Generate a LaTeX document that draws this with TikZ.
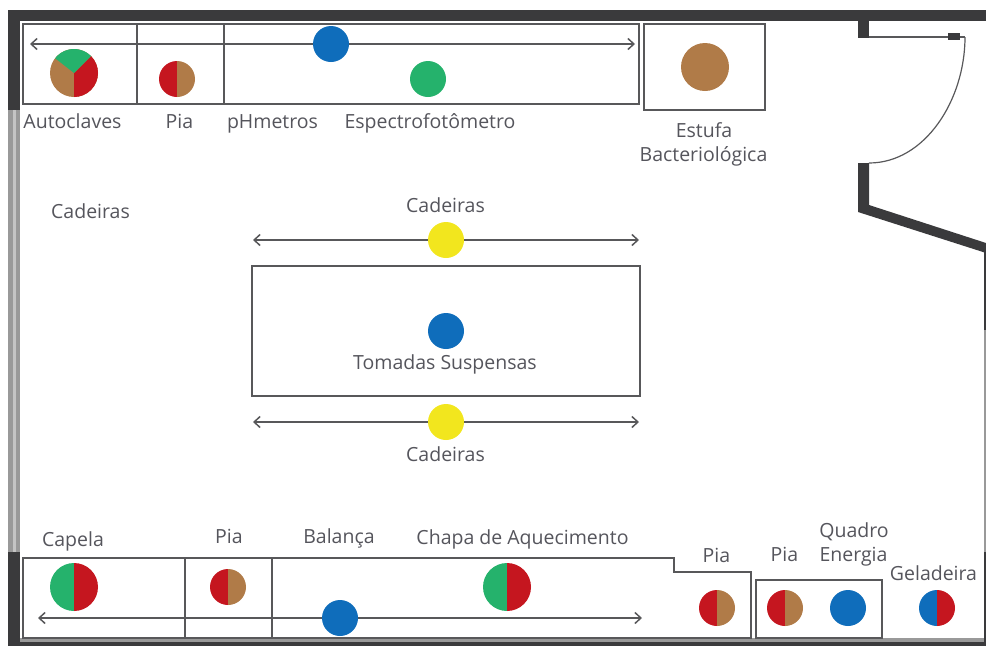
\documentclass[tikz,border=0pt]{standalone}
\usepackage{fontspec}
\setmainfont{Open Sans}
\usetikzlibrary{arrows.meta}
\definecolor{wallc}{HTML}{3A3A3C}
\definecolor{linec}{HTML}{58585A}
\definecolor{grayc}{HTML}{999999}
\definecolor{grayd}{HTML}{C4C4C4}
\definecolor{txtc}{HTML}{55555C}
\definecolor{redc}{HTML}{C5161F}
\definecolor{brownc}{HTML}{B07B48}
\definecolor{greenc}{HTML}{25B26C}
\definecolor{bluec}{HTML}{0F6DBB}
\definecolor{yellowc}{HTML}{F2E61E}
\tikzset{
  x=1pt,y=-1pt,
  label text/.style={anchor=base,inner sep=0pt,text=txtc,font=\fontsize{19.5}{19.5}\selectfont},
  bench/.style={draw=linec,line width=1.5pt},
  spread/.style={draw=linec,line width=1.7pt,{Straight Barb[length=6pt,width=11pt,line width=1.5pt]}-{Straight Barb[length=6pt,width=11pt,line width=1.5pt]}},
  wall/.style={fill=wallc,draw=none},
  dot/.style={circle,draw=none,inner sep=0pt,minimum size=36pt,fill=#1},
  bigdot/.style={dot=#1,minimum size=48pt}
}
\newcommand{\halfdot}[5]{% name, position, radius, left colour, right colour
  \node[circle,inner sep=0pt,minimum size=#3*2pt] (#1) at (#2) {};
  \begin{scope}[shift={(#1.center)},y=1pt]
    \fill[#4] (0,#3) arc[start angle=90,end angle=270,radius=#3] -- cycle;
    \fill[#5] (0,#3) arc[start angle=90,end angle=-90,radius=#3] -- cycle;
  \end{scope}}
\begin{document}
\begin{tikzpicture}
\useasboundingbox (0,0) rectangle (986,646);
% walls
\fill[wall] (8,10) rectangle (986,21);
\fill[wall] (8,10) rectangle (20,110);
\fill[grayc] (8,110) rectangle (20,552);
\fill[grayd] (12.5,110) rectangle (15.5,552);
\fill[wall] (8,552) rectangle (20,646);
\fill[grayc] (20,638) rectangle (986,642);
\fill[wall] (8,642) rectangle (986,646);
\fill[wall] (983.5,250) rectangle (986,330);
\fill[grayc] (983.5,330) rectangle (986,552);
\fill[wall] (983.5,552) rectangle (986,642);
\fill[wall] (858,10) rectangle (869,38);
\fill[wall] (858,163) -- (869,163) -- (869,205) -- (986,243) -- (986,253) -- (983,252) -- (858,212) -- cycle;
% door
\coordinate (hingeA) at (869,37);
\coordinate (arcA) at (965,37);
\coordinate (arcB) at (869,163);
\draw[linec,line width=1.2pt] (hingeA) -- (arcA);
\fill[wall] (948,33) rectangle (960,40);
\draw[linec,line width=1.2pt] (arcA) .. controls (965,100) and (925,163) .. (arcB);
% benches
\draw[bench] (23,24) rectangle (639,104);
\draw[bench] (137,24) -- (137,104);
\draw[bench] (224,24) -- (224,104);
\draw[bench] (644,24) rectangle (765,110);
\draw[bench] (252,266) rectangle (640,396);
\draw[bench] (23,558) -- (674,558) -- (674,572) -- (751,572) -- (751,638) -- (23,638) -- cycle;
\draw[bench] (185,558) -- (185,638);
\draw[bench] (272,558) -- (272,638);
\draw[bench] (756,580) rectangle (882,638);
% spreads
\coordinate (t1) at (30,44); \coordinate (t2) at (635,44);
\coordinate (m1) at (253,240); \coordinate (m2) at (639,240);
\coordinate (n1) at (253,422); \coordinate (n2) at (639,422);
\coordinate (b1) at (38,618); \coordinate (b2) at (642,618);
\draw[spread] (t1) -- (t2);
\draw[spread] (m1) -- (m2);
\draw[spread] (n1) -- (n2);
\draw[spread] (b1) -- (b2);
% dots
\node[dot=bluec] (d1) at (331,44) {};
\node[dot=greenc] (d2) at (428,79) {};
\node[bigdot=brownc] (d3) at (705,67) {};
\node[dot=yellowc] (d4) at (446,240) {};
\node[dot=bluec] (d5) at (446,331) {};
\node[dot=yellowc] (d6) at (446,422) {};
\node[dot=bluec] (d7) at (340,618) {};
\node[dot=bluec] (d8) at (848,608) {};
\halfdot{p1}{177,79}{18}{redc}{brownc}
\halfdot{p2}{228,587}{18}{redc}{brownc}
\halfdot{p3}{717,608}{18}{redc}{brownc}
\halfdot{p4}{785,608}{18}{redc}{brownc}
\halfdot{p5}{937,608}{18}{bluec}{redc}
\halfdot{p6}{74,587}{24}{greenc}{redc}
\halfdot{p7}{507,587}{24}{greenc}{redc}
\node[bigdot=brownc] (p8) at (74,73) {};
\begin{scope}[shift={(p8.center)},y=1pt]
\fill[redc] (0,0) -- (45:24) arc[start angle=45,end angle=-90,radius=24] -- cycle;
\fill[greenc] (0,0) -- (45:24) arc[start angle=45,end angle=142,radius=24] -- cycle;
\end{scope}
% labels
\node[label text] (l1) at (72.5,128) {Autoclaves};
\node[label text] (l2) at (179.5,128) {Pia};
\node[label text] (l3) at (272.5,128) {pHmetros};
\node[label text] (l4) at (430,128) {Espectrofotômetro};
\node[label text] (l5) at (704,137) {Estufa};
\node[label text] (l6) at (703.5,161) {Bacteriológica};
\node[label text] (l7) at (90.5,218.5) {Cadeiras};
\node[label text] (l8) at (445.5,212.5) {Cadeiras};
\node[label text] (l9) at (445,369) {Tomadas Suspensas};
\node[label text] (l10) at (445.5,461.5) {Cadeiras};
\node[label text] (l11) at (73,546) {Capela};
\node[label text] (l12) at (229,543) {Pia};
\node[label text] (l13) at (339,543) {Balança};
\node[label text] (l14) at (522.5,544) {Chapa de Aquecimento};
\node[label text] (l15) at (716.5,562) {Pia};
\node[label text] (l16) at (784.5,561.5) {Pia};
\node[label text] (l17) at (854,537) {Quadro};
\node[label text] (l18) at (853.5,561.5) {Energia};
\node[label text] (l19) at (933.5,580) {Geladeira};
\end{tikzpicture}
\end{document}
